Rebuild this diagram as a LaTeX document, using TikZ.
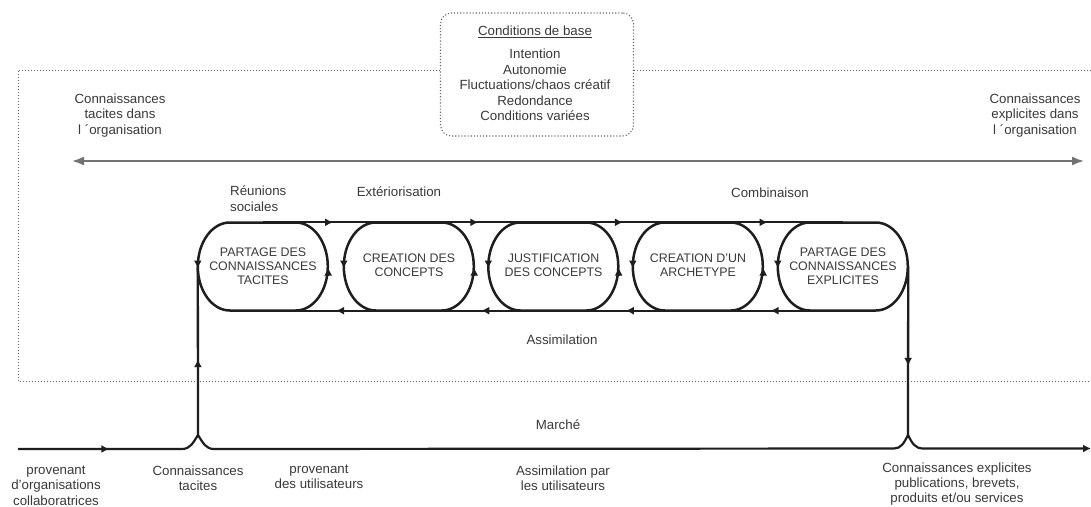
\documentclass[tikz,border=0pt]{standalone}
\usepackage{fontspec}
\setmainfont{Liberation Sans}
\usetikzlibrary{arrows.meta,calc,decorations.markings}
\definecolor{ink}{HTML}{1E1E1E}
\definecolor{txt}{HTML}{3A3A3A}
\tikzset{
  lbl/.style={font=\fontsize{13.3}{15.4}\selectfont,text=txt,align=center,inner sep=0pt},
  steptext/.style={font=\fontsize{12.4}{14}\selectfont,text=txt,align=center,inner sep=0pt,minimum width=130pt,minimum height=88pt},
  loopline/.style={draw=ink,line width=2.5pt},
  thinflow/.style={draw=ink,line width=2.1pt},
  framed/.style={draw=black!60,line width=1pt,dotted},
  tipat/.style={postaction={decorate},decoration={markings,mark=at position #1 with {\arrow{Latex[length=8pt,width=8pt]}}}},
  shorttip/.style={draw=ink,line width=1.6pt,-{Latex[length=8pt,width=8pt]}},
}
\newcommand{\stadiumoutline}[1]{%
  \draw[loopline] (#1.west) arc[start angle=180,end angle=90,x radius=32pt,y radius=44pt]
    -- ++(66pt,0pt) arc[start angle=90,end angle=-90,x radius=32pt,y radius=44pt]
    -- ++(-66pt,0pt) arc[start angle=-90,end angle=-180,x radius=32pt,y radius=44pt];
}
\begin{document}
\begin{tikzpicture}[x=1pt,y=-1pt]
\useasboundingbox (0,0) rectangle (1091,506);
\fill[white] (0,0) rectangle (1091,506);
% dotted frame
\coordinate (ftr) at (1091,70);
\coordinate (ftl) at (18,70);
\coordinate (fbl) at (18,381.5);
\coordinate (fbr) at (1091,381.5);
\draw[framed] (ftr) -- (ftl) -- (fbl) -- (fbr);
% base conditions box
\node[draw=black!60,line width=1.1pt,dotted,fill=white,rounded corners=11pt,minimum width=193pt,minimum height=123pt,inner sep=0pt] (base) at (537,74.5) {};
\node[lbl] (basetitle) at (535,32) {\underline{Conditions de base}};
\node[lbl] (cond1) at (535,54) {Intention};
\node[lbl] (cond2) at (535,69.5) {Autonomie};
\node[lbl] (cond3) at (535,85) {Fluctuations/chaos créatif};
\node[lbl] (cond4) at (535,100.5) {Redondance};
\node[lbl] (cond5) at (535,116) {Conditions variées};
% side labels
\node[lbl] (tacorg) at (120,115.5) {Connaissances\\tacites dans\\l ´organisation};
\node[lbl] (exporg) at (1035,115.5) {Connaissances\\explicites dans\\l ´organisation};
\coordinate (al) at (72,161);
\coordinate (ar) at (1084,161);
\draw[draw=black!55,line width=1.8pt,{Latex[length=12pt,width=9pt]}-{Latex[length=12pt,width=9pt]}] (al) -- (ar);
% steps
\node[steptext] (s1) at (263,266.5) {PARTAGE DES\\CONNAISSANCES\\TACITES};
\node[steptext] (s2) at (409,266.5) {\raisebox{7pt}{\begin{tabular}{@{}c@{}}CREATION DES\\[-.6pt]CONCEPTS\end{tabular}}};
\node[steptext] (s3) at (553.5,266.5) {\raisebox{7pt}{\begin{tabular}{@{}c@{}}JUSTIFICATION\\[-.6pt]DES CONCEPTS\end{tabular}}};
\node[steptext] (s4) at (698,266.5) {\raisebox{7pt}{\begin{tabular}{@{}c@{}}CREATION D'UN\\[-.6pt]ARCHETYPE\end{tabular}}};
\node[steptext] (s5) at (843,266.5) {PARTAGE DES\\CONNAISSANCES\\EXPLICITES};
\stadiumoutline{s1}
\stadiumoutline{s2}
\stadiumoutline{s3}
\stadiumoutline{s4}
\stadiumoutline{s5}
% top and bottom flows
\draw[thinflow,tipat=.48] (s1.north) -- (s2.north);
\draw[thinflow,tipat=.48] (s2.north) -- (s3.north);
\draw[thinflow,tipat=.48] (s3.north) -- (s4.north);
\draw[thinflow,tipat=.48] (s4.north) -- (s5.north);
\draw[thinflow,tipat=.5] (s5.south) -- (s4.south);
\draw[thinflow,tipat=.5] (s4.south) -- (s3.south);
\draw[thinflow,tipat=.5] (s3.south) -- (s2.south);
\draw[thinflow,tipat=.5] (s2.south) -- (s1.south);
% side ticks on the loops
\foreach \n in {s1,s2,s3,s4,s5}{
  \draw[shorttip] ($(\n.west)+(0pt,4pt)$) -- ($(\n.west)+(0pt,-2pt)$);
}
\foreach \n in {s1,s2,s3,s4}{
  \draw[shorttip] ($(\n.east)+(0pt,-8pt)$) -- ($(\n.east)+(0pt,-1pt)$);
}
% market line
\coordinate (mstart) at (18,449);
\coordinate (pl) at (198,435);
\coordinate (pr) at (908,435);
\coordinate (mend) at (1091,448.5);
\draw[loopline,line width=2.2pt,tipat=.49] (mstart) -- (182,449) .. controls (190,449) and (193,443) .. (pl);
\draw[loopline,line width=2.2pt] (pl) .. controls (203,443) and (206,449) .. (214,449) -- (894,448.5) .. controls (901,448.5) and (904,443) .. (pr);
\draw[loopline,line width=2.2pt,-{Latex[length=8pt,width=8pt]}] (pr) .. controls (912,443) and (915,448.5) .. (923,448.5) -- (mend);
% links to the market
\draw[thinflow,line width=2.3pt,tipat=.45] (pl) -- (s1.west);
\draw[thinflow,line width=2.3pt,tipat=.59] (s5.east) -- (pr);
% process labels
\node[lbl,align=left,anchor=west] (reunions) at (230,198.5) {Réunions\\sociales};
\node[lbl] (exteri) at (399,192) {Extériorisation};
\node[lbl] (combi) at (770,193) {Combinaison};
\node[lbl] (assim) at (562,340) {Assimilation};
\node[lbl] (marche) at (558,425) {Marché};
% bottom labels
\node[lbl] (b1) at (56,485.5) {provenant\\d'organisations\\collaboratrices};
\node[lbl] (b2) at (198,478) {Connaissances\\tacites};
\node[lbl] (b3) at (319,477) {provenant\\des utilisateurs};
\node[lbl] (b4) at (563,478) {Assimilation par\\les utilisateurs};
\node[lbl] (b5) at (957,484) {Connaissances explicites\\publications, brevets,\\produits et/ou services};
\end{tikzpicture}
\end{document}
